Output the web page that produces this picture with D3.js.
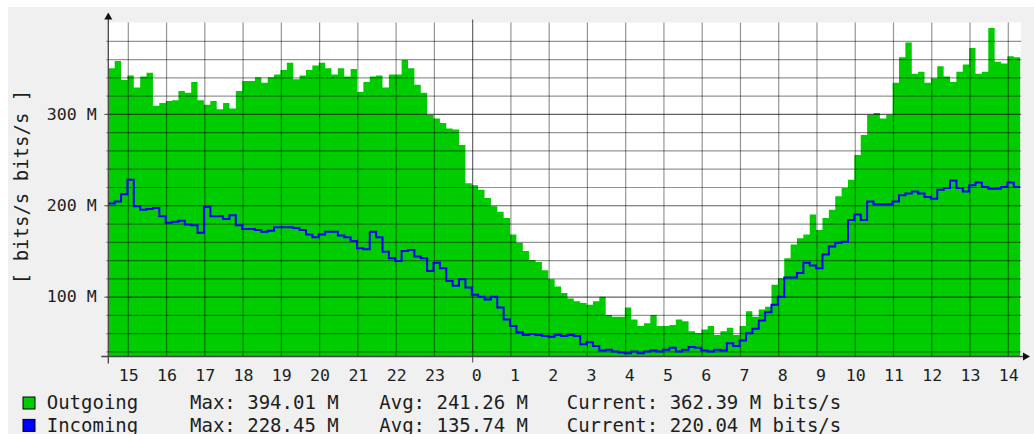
<!DOCTYPE html>
<html>
<head>
<meta charset="utf-8">
<script src="https://cdn.jsdelivr.net/npm/d3@7"></script>
<style>
    body { margin: 0; background: #fff; }
    text { font-family: "DejaVu Sans Mono", monospace; fill: #1e1e1e; }
</style>
</head>
<body>
<div id="chart-area"></div>
<script>

// traffic samples, one every 10 minutes, in M bits/s
let outgoing = [
    350, 358, 337, 342, 329, 341, 345, 309, 312, 314, 315, 325, 323, 335, 315, 310, 314, 305, 312, 306,
    325, 336, 336, 340, 334, 340, 343, 348, 356, 338, 342, 348, 353, 356, 350, 343, 350, 341, 349, 324,
    335, 341, 342, 329, 343, 343, 359, 350, 332, 323, 299, 295, 290, 284, 283, 266, 224, 222, 217, 208,
    199, 193, 186, 168, 159, 150, 140, 138, 129, 119, 111, 104, 98, 95, 93, 91, 95, 100, 80, 78,
    78, 88, 75, 68, 71, 80, 68, 68, 69, 75, 73, 62, 60, 64, 68, 58, 62, 66, 58, 68,
    84, 78, 86, 89, 113, 120, 142, 157, 164, 168, 190, 173, 186, 195, 210, 219, 228, 255, 277, 299,
    301, 295, 299, 334, 362, 378, 344, 346, 334, 339, 352, 341, 335, 346, 354, 372, 344, 346, 394, 357,
    355, 363, 362
];

let incoming = [
    202, 204, 212, 228, 199, 195, 196, 197, 188, 181, 182, 183, 179, 178, 170, 198, 188, 188, 185, 189,
    178, 174, 174, 173, 171, 172, 176, 176, 176, 175, 173, 168, 165, 168, 171, 171, 167, 165, 161, 153,
    152, 171, 165, 149, 142, 139, 150, 151, 144, 142, 128, 137, 131, 117, 112, 119, 110, 102, 100, 97,
    100, 88, 75, 68, 61, 58, 59, 58, 57, 56, 58, 57, 58, 57, 48, 50, 46, 41, 42, 40,
    39, 38, 40, 38, 40, 41, 40, 42, 44, 40, 42, 45, 44, 41, 40, 42, 41, 49, 46, 52,
    60, 65, 74, 83, 91, 100, 121, 121, 126, 137, 134, 131, 146, 155, 159, 160, 184, 190, 184, 204,
    201, 201, 201, 204, 211, 213, 215, 213, 209, 207, 217, 219, 227, 219, 215, 222, 225, 220, 218, 218,
    220, 225, 220
];

let yTickValues = [100, 200, 300];

let legendNames = ["Outgoing", "Incoming"];
let legendColors = ["#00cc00", "#0000ff"];
let legendMax = ["394.01 M", "228.45 M"];
let legendAvg = ["241.26 M", "135.74 M"];
let legendCurrent = ["362.39 M", "220.04 M"];

let startTime = new Date(2024, 0, 1, 14, 28, 38);
let stepMs = 10 * 60 * 1000;

// drawing area
let width = 1034, height = 434;
let plot = {left: 108.3, top: 22.5, bottom: 356.5};
let pxPerHour = 38.26;

let svg = d3.select("#chart-area").append("svg")
    .attr("width", width)
    .attr("height", height);

let endTime = new Date(startTime.getTime() + outgoing.length * stepMs);
let plotRight = plot.left + (outgoing.length * stepMs / 3600000) * pxPerHour;

let x = d3.scaleTime()
    .domain([startTime, endTime])
    .range([plot.left, plotRight]);

let y = d3.scaleLinear()
    .domain([34.5, 400])
    .range([plot.bottom, plot.top]);

// rows with time attached, plus one closing point for the last step
function toRows(values) {
    let rows = values.map((v, i) => ({t: new Date(startTime.getTime() + i * stepMs), v: v}));
    rows.push({t: endTime, v: values[values.length - 1]});
    return rows;
}

// background
svg.append("rect")
    .attr("x", 8).attr("y", 7)
    .attr("width", width - 8).attr("height", height - 7)
    .attr("fill", "#f0f0f0");

svg.append("rect")
    .attr("x", plot.left).attr("y", plot.top)
    .attr("width", plotRight - plot.left + 1).attr("height", plot.bottom - plot.top)
    .attr("fill", "#ffffff");

// outgoing area
let area = d3.area()
    .x(d => x(d.t))
    .y0(y(34.5))
    .y1(d => y(d.v))
    .curve(d3.curveStepAfter);

svg.append("path")
    .datum(toRows(outgoing))
    .attr("fill", "#00cc00")
    .attr("d", area);

// grid
let hours = d3.timeHour.range(startTime, endTime);
let minorY = d3.range(40, 400, 20);

svg.append("g").selectAll("line")
    .data(minorY)
    .enter().append("line")
    .attr("x1", plot.left - 2)
    .attr("x2", plotRight + 1)
    .attr("y1", d => y(d) + 0.5)
    .attr("y2", d => y(d) + 0.5)
    .attr("stroke", d => yTickValues.includes(d) ? "rgba(0,0,0,0.62)" : "rgba(0,0,0,0.42)")
    .attr("stroke-width", 1.2);

svg.append("g").selectAll("line")
    .data(hours)
    .enter().append("line")
    .attr("x1", d => x(d))
    .attr("x2", d => x(d))
    .attr("y1", d => d.getHours() === 0 ? plot.top - 3 : plot.top)
    .attr("y2", d => d.getHours() === 0 ? plot.bottom + 6 : plot.bottom)
    .attr("stroke", d => d.getHours() === 0 ? "rgba(0,0,0,0.6)" : "rgba(0,0,0,0.42)")
    .attr("stroke-width", 1.2);

// incoming line
let line = d3.line()
    .x(d => x(d.t))
    .y(d => y(d.v))
    .curve(d3.curveStepAfter);

svg.append("path")
    .datum(toRows(incoming))
    .attr("fill", "none")
    .attr("stroke", "#0000ff")
    .attr("stroke-width", 2)
    .attr("d", line);

// axes
let xAxis = d3.axisBottom(x)
    .tickValues(hours)
    .tickFormat(d3.timeFormat("%-H"))
    .tickSize(0)
    .tickPadding(12.5);

let xAxisGroup = svg.append("g")
    .attr("transform", "translate(0," + plot.bottom + ")")
    .call(xAxis);
xAxisGroup.select(".domain").remove();
xAxisGroup.selectAll("text")
    .attr("dx", d => d.getHours() < 10 ? 3.5 : 0)
    .style("font-size", "16.6px")
    .style("font-family", "DejaVu Sans Mono");

let yAxis = d3.axisLeft(y)
    .tickValues(yTickValues)
    .tickFormat(d => d + " M")
    .tickSize(4)
    .tickPadding(7.6);

let yAxisGroup = svg.append("g")
    .attr("transform", "translate(" + plot.left + ",0)")
    .call(yAxis);
yAxisGroup.select(".domain").remove();
yAxisGroup.selectAll("line").attr("stroke", "#555");
yAxisGroup.selectAll("text")
    .style("font-size", "16.6px")
    .style("font-family", "DejaVu Sans Mono");

// axis lines and arrows
svg.append("line")
    .attr("x1", plot.left - 7).attr("x2", 1024)
    .attr("y1", plot.bottom).attr("y2", plot.bottom)
    .attr("stroke", "#444").attr("stroke-width", 1.3);

svg.append("line")
    .attr("x1", plot.left).attr("x2", plot.left)
    .attr("y1", plot.bottom + 7).attr("y2", 18)
    .attr("stroke", "#444").attr("stroke-width", 1.3);

svg.append("path")
    .attr("d", "M" + (plot.left - 4) + ",19.5 L" + plot.left + ",12.5 L" + (plot.left + 4) + ",19.5 Z")
    .attr("fill", "#111");

svg.append("path")
    .attr("d", "M1023," + (plot.bottom - 4) + " L1030," + plot.bottom + " L1023," + (plot.bottom + 4) + " Z")
    .attr("fill", "#111");

// y axis title
svg.append("text")
    .attr("transform", "translate(27.5,187) rotate(-90)")
    .attr("text-anchor", "middle")
    .style("font-size", "19px")
    .text("[ bits/s bits/s ]");

// legend
let legendRowY = [409.3, 431.7];

let legend = svg.append("g").selectAll("g")
    .data(legendNames)
    .enter().append("g");

legend.append("rect")
    .attr("x", 23)
    .attr("y", (d, i) => legendRowY[i] - 12.3)
    .attr("width", 12)
    .attr("height", 12)
    .attr("fill", (d, i) => legendColors[i])
    .attr("stroke", "#000")
    .attr("stroke-width", 1);

legend.append("text")
    .attr("x", 46.7)
    .attr("y", (d, i) => legendRowY[i])
    .style("font-size", "19px")
    .text(d => d);

legend.append("text")
    .attr("x", 190)
    .attr("y", (d, i) => legendRowY[i])
    .style("font-size", "19px")
    .text((d, i) => "Max: " + legendMax[i]);

legend.append("text")
    .attr("x", 379.3)
    .attr("y", (d, i) => legendRowY[i])
    .style("font-size", "19px")
    .text((d, i) => "Avg: " + legendAvg[i]);

legend.append("text")
    .attr("x", 566.7)
    .attr("y", (d, i) => legendRowY[i])
    .style("font-size", "19px")
    .text((d, i) => "Current: " + legendCurrent[i] + " bits/s");

</script>
</body>
</html>
